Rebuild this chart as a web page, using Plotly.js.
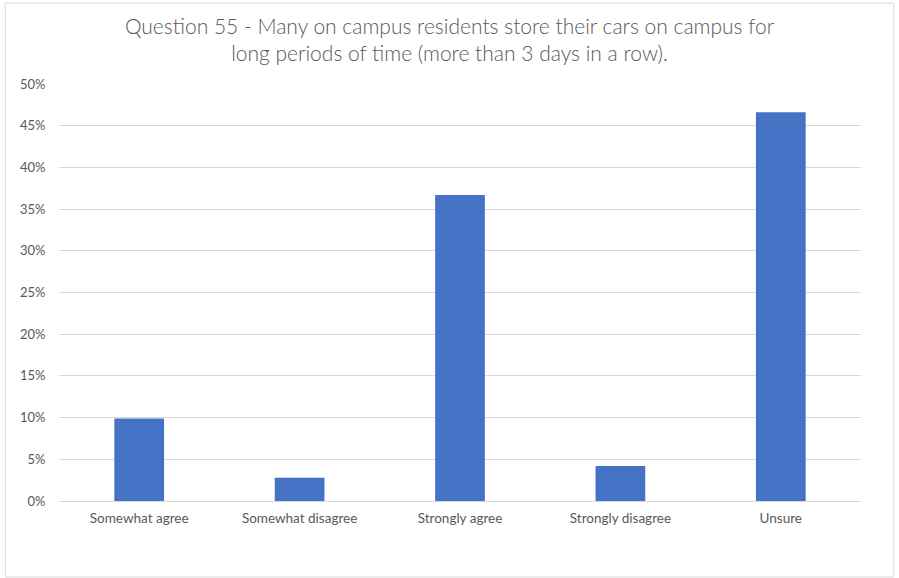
<!DOCTYPE html>
<html>
<head>
<meta charset="utf-8">
<script src="https://cdn.plot.ly/plotly-3.0.1.min.js"></script>
<style>
html,body{margin:0;padding:0;background:#fff;}
#chart{width:899px;height:578px;}
</style>
</head>
<body>
<div id="chart"></div>
<script>
const categories = ["Somewhat agree", "Somewhat disagree", "Strongly agree", "Strongly disagree", "Unsure"];
const shares = [0.099, 0.028, 0.367, 0.042, 0.466];
const yTickValues = [0, 0.05, 0.10, 0.15, 0.20, 0.25, 0.30, 0.35, 0.40, 0.45, 0.50];
const chartTitle = "Question 55 - Many on campus residents store their cars on campus for<br>long periods of time (more than 3 days in a row).";

const trace = {
  type: "bar",
  x: categories,
  y: shares,
  marker: {color: "#4472C4"},
  hoverinfo: "x+y"
};

const layout = {
  width: 899,
  height: 578,
  paper_bgcolor: "#ffffff",
  plot_bgcolor: "#ffffff",
  margin: {l: 59, r: 38, t: 84, b: 77},
  bargap: 0.69,
  showlegend: false,
  title: {
    text: chartTitle,
    x: 0.5,
    xref: "container",
    xanchor: "center",
    yref: "container",
    y: 0.941,
    yanchor: "middle",
    font: {family: "Lato, 'Open Sans', sans-serif", size: 21, color: "#595959", weight: 300}
  },
  xaxis: {
    type: "category",
    showgrid: false,
    zeroline: false,
    showline: true,
    linecolor: "#d9d9d9",
    linewidth: 1,
    ticks: "outside",
    ticklen: 5,
    tickcolor: "rgba(0,0,0,0)",
    tickfont: {family: "Lato, 'Open Sans', sans-serif", size: 13.5, color: "#595959"}
  },
  yaxis: {
    range: [0, 0.5],
    tickvals: yTickValues,
    tickformat: ".0%",
    showgrid: true,
    gridcolor: "#d9d9d9",
    gridwidth: 1,
    zeroline: false,
    showline: false,
    ticks: "outside",
    ticklen: 10,
    tickcolor: "rgba(0,0,0,0)",
    tickfont: {family: "Lato, 'Open Sans', sans-serif", size: 13, color: "#595959"}
  },
  shapes: [{
    type: "rect",
    xref: "paper", yref: "paper",
    x0: -0.067, x1: 1.0408,
    y0: -0.1823, y1: 1.194,
    line: {color: "#d9d9d9", width: 1},
    fillcolor: "rgba(0,0,0,0)",
    layer: "below"
  }]
};

Plotly.newPlot("chart", [trace], layout, {displayModeBar: false, staticPlot: true});
</script>
</body>
</html>
